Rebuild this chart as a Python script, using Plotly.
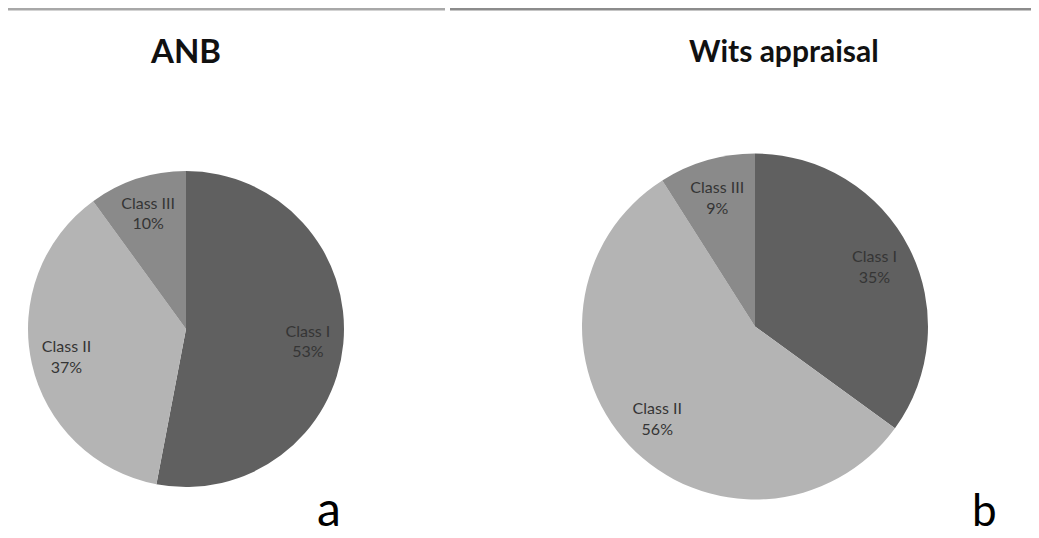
import plotly.graph_objects as go

labels = ["Class I", "Class II", "Class III"]
anb_values = [53, 37, 10]
wits_values = [35, 56, 9]
slice_colors = ["#606060", "#b4b4b4", "#8a8a8a"]
titles = ["ANB", "Wits appraisal"]
panel_letters = ["a", "b"]

W, H = 1039, 538
OFF = 8  # page body margin
FONT = "Lato, 'Open Sans', sans-serif"

def px(x):
    return (x - OFF) / W

def py(y):
    return 1 - (y - OFF) / H

def dom(x0, x1, y0, y1):
    return dict(x=[px(x0), px(x1)], y=[py(y1), py(y0)])

base = dict(labels=labels, sort=False, direction="clockwise", rotation=0, showlegend=False)

fig = go.Figure()
for vals, d in [(anb_values, dom(28, 344, 171, 487)), (wits_values, dom(582, 928, 153, 500))]:
    # colored slices
    fig.add_trace(go.Pie(values=vals, domain=d, marker=dict(colors=slice_colors, line=dict(width=0)),
                         textinfo="none", hoverinfo="label+percent", **base))
    # transparent overlay carrying the labels further out toward the rim
    fig.add_trace(go.Pie(values=vals, domain=d, hole=0.55,
                         marker=dict(colors=["rgba(0,0,0,0)"] * 3, line=dict(width=0)),
                         texttemplate="%{label}<br>%{value}%", textposition="inside",
                         insidetextorientation="horizontal",
                         textfont=dict(family=FONT, size=16, color="#353535"),
                         hoverinfo="skip", **base))

fig.update_layout(
    width=W, height=H,
    margin=dict(l=0, r=0, t=0, b=0),
    paper_bgcolor="white",
    plot_bgcolor="white",
    uniformtext=dict(minsize=16, mode="show"),
    shapes=[
        dict(type="line", xref="paper", yref="paper", x0=px(8), x1=px(445),
             y0=py(9), y1=py(9), line=dict(color="#a8a8a8", width=3)),
        dict(type="line", xref="paper", yref="paper", x0=px(450), x1=px(1039),
             y0=py(9), y1=py(9), line=dict(color="#8c8c8c", width=3)),
    ],
    annotations=[
        dict(text="<b>" + titles[0] + "</b>", x=px(185), y=py(50), xref="paper", yref="paper",
             showarrow=False, xanchor="center", yanchor="middle",
             font=dict(family=FONT, size=33, color="#111111")),
        dict(text="<b>" + titles[1] + "</b>", x=px(784), y=py(50), xref="paper", yref="paper",
             showarrow=False, xanchor="center", yanchor="middle",
             font=dict(family=FONT, size=30, color="#111111")),
        dict(text=panel_letters[0], x=px(329), y=py(507), xref="paper", yref="paper",
             showarrow=False, xanchor="center", yanchor="middle",
             font=dict(family=FONT, size=48, color="#000000")),
        dict(text=panel_letters[1], x=px(984), y=py(509), xref="paper", yref="paper",
             showarrow=False, xanchor="center", yanchor="middle",
             font=dict(family=FONT, size=44, color="#000000")),
    ],
)

fig.write_html("out.html")
